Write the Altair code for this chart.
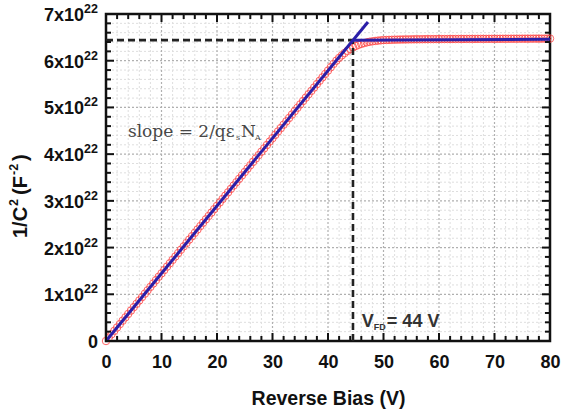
import altair as alt
import pandas as pd

# Measured 1/C^2 (units of 1e22 F^-2) versus reverse bias (V), 0.5 V steps
bias = [i * 0.5 for i in range(161)]
inv_c2 = [
    0.000, 0.072, 0.145, 0.217, 0.289, 0.362, 0.434, 0.506, 0.579, 0.651,
    0.724, 0.796, 0.868, 0.941, 1.013, 1.085, 1.158, 1.230, 1.302, 1.375,
    1.447, 1.519, 1.592, 1.664, 1.736, 1.809, 1.881, 1.953, 2.026, 2.098,
    2.171, 2.243, 2.315, 2.388, 2.460, 2.532, 2.605, 2.677, 2.749, 2.822,
    2.894, 2.966, 3.039, 3.111, 3.183, 3.256, 3.328, 3.400, 3.473, 3.545,
    3.618, 3.690, 3.762, 3.835, 3.907, 3.979, 4.052, 4.124, 4.196, 4.269,
    4.341, 4.413, 4.486, 4.558, 4.630, 4.703, 4.775, 4.847, 4.920, 4.992,
    5.065, 5.137, 5.209, 5.282, 5.354, 5.426, 5.499, 5.571, 5.643, 5.716,
    5.788, 5.860, 5.932, 6.000, 6.060, 6.115, 6.165, 6.210, 6.250, 6.285,
    6.315, 6.340, 6.360, 6.378, 6.393, 6.405, 6.415, 6.423, 6.430, 6.436,
    6.441, 6.444, 6.446, 6.448, 6.450, 6.451, 6.453, 6.454, 6.455, 6.456,
    6.457, 6.458, 6.459, 6.459, 6.460, 6.461, 6.461, 6.462, 6.462, 6.463,
    6.463, 6.464, 6.464, 6.464, 6.465, 6.465, 6.465, 6.466, 6.466, 6.466,
    6.467, 6.467, 6.467, 6.467, 6.468, 6.468, 6.468, 6.468, 6.469, 6.469,
    6.469, 6.469, 6.470, 6.470, 6.470, 6.470, 6.471, 6.471, 6.471, 6.471,
    6.472, 6.472, 6.472, 6.472, 6.473, 6.473, 6.473, 6.473, 6.474, 6.474,
    6.474,
]

# Linear fits: depletion slope and saturated plateau
slope_fit_x = [0.0, 47.2]
slope_fit_y = [0.0, 6.83]
plateau_fit_x = [44.5, 80.0]
plateau_fit_y = [6.44, 6.46]

# Full-depletion guide lines
v_fd = 44.5
c_fd = 6.44

# Axis ticks and grid
x_major = [0, 10, 20, 30, 40, 50, 60, 70, 80]
x_minor = [v for v in range(0, 81, 2) if v % 10 != 0]
y_major = [0, 1, 2, 3, 4, 5, 6, 7]
y_minor = [round(v * 0.2, 1) for v in range(0, 36) if v % 5 != 0]
y_mantissa = ["0", "1x10", "2x10", "3x10", "4x10", "5x10", "6x10", "7x10"]
y_exponent = "22"

W, H = 444, 327
xs = alt.Scale(domain=[0, 80], nice=False, zero=False)
ys = alt.Scale(domain=[0, 7], nice=False, zero=False)
FONT = "Liberation Sans"
INK = "#111"

xax = alt.Axis(
    values=x_major, labelFont=FONT, labelFontSize=18, labelFontWeight="bold",
    labelColor=INK, labelPadding=12, labelFlush=False, tickSize=0,
    grid=False, domain=False,
    title="Reverse Bias (V)", titleFont=FONT, titleFontSize=19.5,
    titleFontWeight="bold", titleColor=INK, titlePadding=18,
)
# y labels carry superscripts, so they are drawn as text layers below
yax = alt.Axis(labels=False, ticks=False, grid=False, domain=False, title=None)


def X(field):
    return alt.X(field, type="quantitative", scale=xs, axis=xax)


def Y(field):
    return alt.Y(field, type="quantitative", scale=ys, axis=yax)


# Grid lines
def vgrid(vals, color, width):
    return alt.Chart(pd.DataFrame({"v": vals})).mark_rule(
        color=color, strokeDash=[2, 2], strokeWidth=width
    ).encode(x=X("v"))


def hgrid(vals, color, width):
    return alt.Chart(pd.DataFrame({"v": vals})).mark_rule(
        color=color, strokeDash=[2, 2], strokeWidth=width
    ).encode(y=Y("v"))


grids = [
    vgrid(x_minor, "#dedede", 1), hgrid(y_minor, "#dedede", 1),
    vgrid(x_major[1:-1], "#b0b0b0", 1.2), hgrid(y_major[1:-1], "#b0b0b0", 1.2),
]

# Measured points
data = pd.DataFrame({"bias": bias, "c": inv_c2})
points = alt.Chart(data).mark_point(
    shape="circle", filled=False, color="#ff4a4a", size=56, strokeWidth=1,
    opacity=0.85,
).encode(x=X("bias"), y=Y("c"))

# Full-depletion dashed guides
guide_h = alt.Chart(pd.DataFrame({"x": [0.0], "x2": [v_fd], "y": [c_fd]})).mark_rule(
    color="#222", strokeDash=[7, 4], strokeWidth=2.6
).encode(x=X("x"), x2="x2:Q", y=Y("y"))
guide_v = alt.Chart(pd.DataFrame({"x": [v_fd], "y": [0.0], "y2": [c_fd]})).mark_rule(
    color="#222", strokeDash=[7, 4], strokeWidth=2.6
).encode(x=X("x"), y=Y("y"), y2="y2:Q")

# Fit lines
fit1 = alt.Chart(pd.DataFrame({"x": slope_fit_x, "y": slope_fit_y})).mark_line(
    color="#2a1ea8", strokeWidth=3
).encode(x=X("x"), y=Y("y"))
fit2 = alt.Chart(pd.DataFrame({"x": plateau_fit_x, "y": plateau_fit_y})).mark_line(
    color="#2a1ea8", strokeWidth=3
).encode(x=X("x"), y=Y("y"))


# Inward tick marks on all four sides
def xticks(vals, length, top):
    y0 = 0 if top else H
    y1 = length if top else H - length
    return alt.Chart(pd.DataFrame({"v": vals})).mark_rule(
        color=INK, strokeWidth=2
    ).encode(x=X("v"), y=alt.value(y0), y2=alt.value(y1))


def yticks(vals, length, right):
    x0 = W if right else 0
    x1 = W - length if right else length
    return alt.Chart(pd.DataFrame({"v": vals})).mark_rule(
        color=INK, strokeWidth=2
    ).encode(y=Y("v"), x=alt.value(x0), x2=alt.value(x1))


ticks = [
    xticks(x_major, 8, False), xticks(x_minor, 5, False),
    xticks(x_major, 8, True), xticks(x_minor, 5, True),
    yticks(y_major, 8, False), yticks(y_minor, 5, False),
    yticks(y_major, 8, True), yticks(y_minor, 5, True),
]

# y tick labels: mantissa "kx10" plus a raised exponent
ylab = pd.DataFrame({"v": y_major, "t": y_mantissa})
ylab_zero = alt.Chart(ylab[ylab.v == 0]).mark_text(
    font=FONT, fontSize=18, fontWeight="bold", color=INK, align="right",
    baseline="middle", dy=2,
).encode(y=Y("v"), x=alt.value(-8), text="t:N")
ylab_main = alt.Chart(ylab[ylab.v != 0]).mark_text(
    font=FONT, fontSize=18, fontWeight="bold", color=INK, align="right",
    baseline="middle", dy=2,
).encode(y=Y("v"), x=alt.value(-22), text="t:N")
ylab_exp = alt.Chart(ylab[ylab.v != 0]).mark_text(
    text=y_exponent, font=FONT, fontSize=12.5, fontWeight="bold", color=INK,
    align="left", baseline="alphabetic", dy=-1,
).encode(y=Y("v"), x=alt.value(-22))


# y axis title, 1/C^2 (F^-2), written bottom-to-top
def ytitle(text, size, dx, dy=0):
    return alt.Chart(pd.DataFrame({"k": [0]})).mark_text(
        text=text, font=FONT, fontSize=size, fontWeight="bold", color=INK,
        align="left", baseline="alphabetic", angle=270, dx=dx, dy=dy,
    ).encode(x=alt.value(-79), y=alt.value(224))


ytitle_parts = [
    ytitle("1/C", 20, 0),
    ytitle("2", 12.5, 32, -9),
    ytitle("(F", 20, 43),
    ytitle("-2", 12.5, 63, -9),
    ytitle(")", 20, 77),
]


# Annotations
def label(df, text, font, size, color, dx=0, dy=0, weight="normal"):
    return alt.Chart(df).mark_text(
        text=text, font=font, fontSize=size, color=color, align="left",
        baseline="alphabetic", dx=dx, dy=dy, fontWeight=weight,
    ).encode(x=X("x"), y=Y("y"))


serif = "DejaVu Serif"
ann = pd.DataFrame({"x": [3.95], "y": [4.37]})
slope_parts = [
    label(ann, "slope = 2/qε", serif, 17, "#474747"),
    label(ann, "s", serif, 8, "#474747", dx=108, dy=3),
    label(ann, "N", serif, 17, "#474747", dx=113),
    label(ann, "A", serif, 8, "#474747", dx=127, dy=3),
]

vfd = pd.DataFrame({"x": [46.1], "y": [0.30]})
vfd_parts = [
    label(vfd, "V", FONT, 18, "#333", weight="bold"),
    label(vfd, "FD", FONT, 9, "#333", dx=12, dy=3, weight="bold"),
    label(vfd, "= 44 V", FONT, 18, "#333", dx=25, weight="bold"),
]

chart = alt.layer(
    *grids, points, guide_h, guide_v, fit1, fit2,
    *ticks, ylab_zero, ylab_main, ylab_exp, *ytitle_parts,
    *slope_parts, *vfd_parts,
).properties(
    width=W, height=H,
    autosize=alt.AutoSizeParams(type="none"),
    padding={"left": 106, "top": 14, "right": 11, "bottom": 69},
    background="white",
).configure_view(
    stroke=INK, strokeWidth=2.5
)

chart.save("out.html", embed_options={"renderer": "svg", "actions": False})
